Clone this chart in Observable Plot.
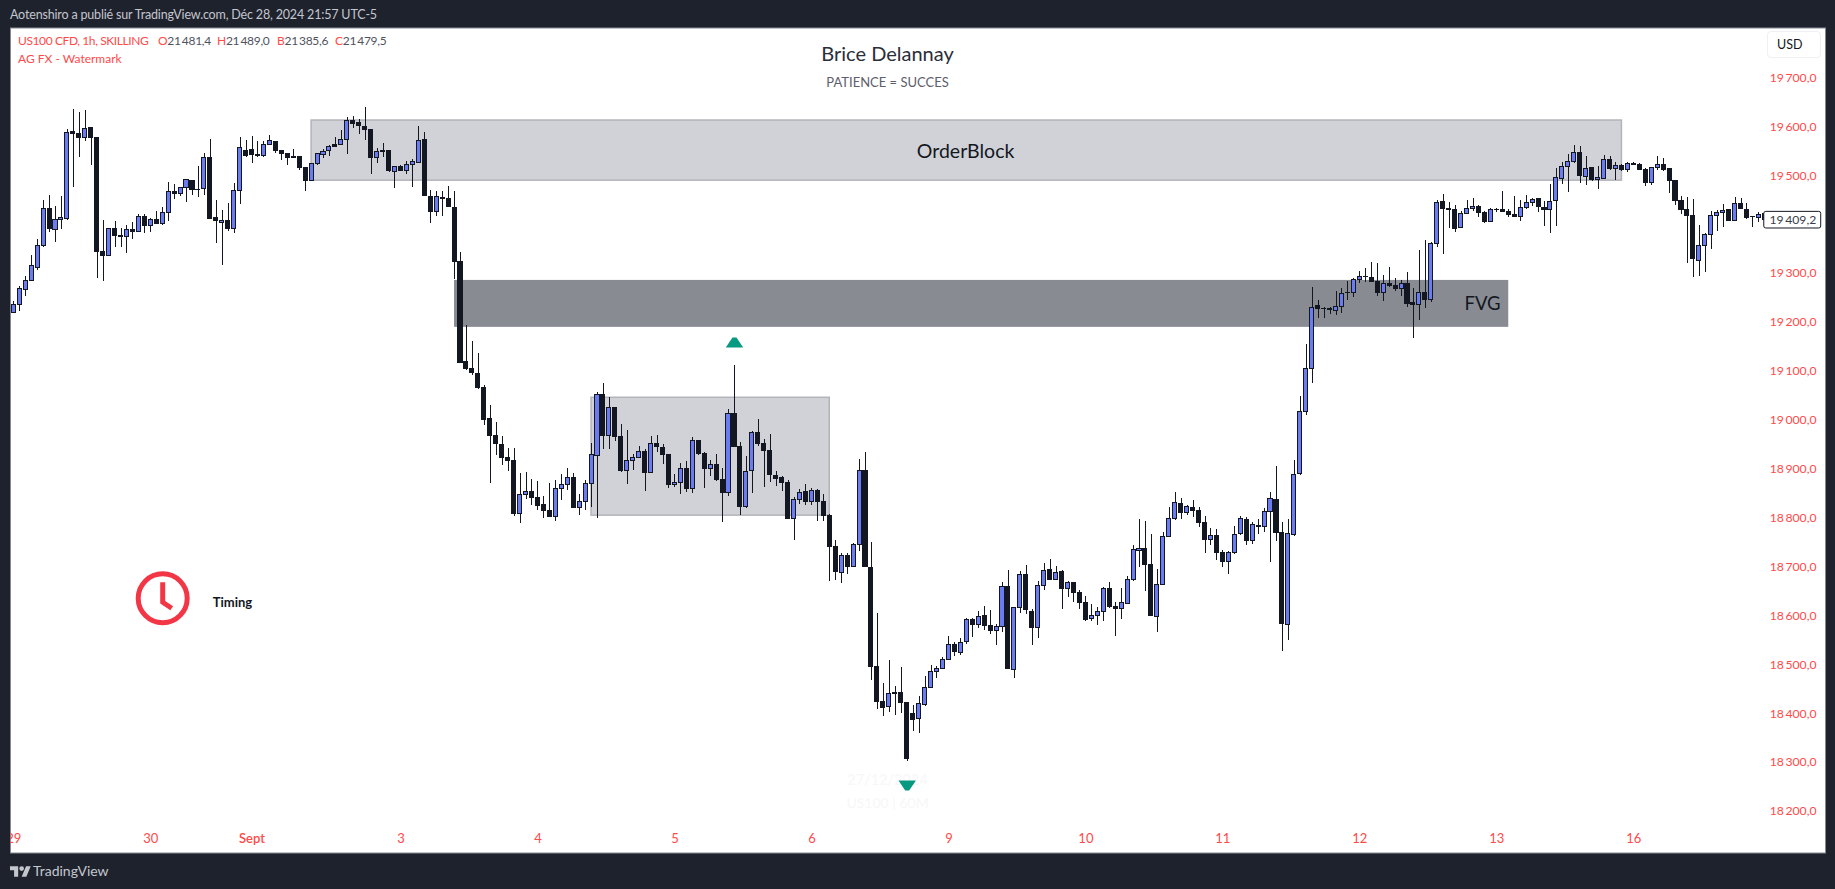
<!DOCTYPE html>
<html lang="fr">
<head>
<meta charset="utf-8">
<title>US100 CFD</title>
<script src="https://cdn.jsdelivr.net/npm/d3@7"></script>
<script src="https://cdn.jsdelivr.net/npm/@observablehq/plot@0.6"></script>
<style>
  html, body { margin: 0; padding: 0; background: #1e222d; width: 1835px; height: 889px; overflow: hidden; }
  body { font-family: Lato, sans-serif; position: relative; }
  #hdr { height: 27px; line-height: 29px; padding-left: 10px; color: #c4c6cd; font-size: 12.5px; letter-spacing: -0.17px; white-space: nowrap; }
  #ftr { height: 36px; position: relative; color: #c4c6cd; font-size: 14px; }
  #ftr svg { position: absolute; left: 10px; top: 13px; }
  #ftr span { position: absolute; left: 33px; top: 9px; }
  #chart svg { display: block; }
  .ov { position: absolute; font-size: 12px; white-space: nowrap; line-height: 16px; }
  .red { color: #ff4a4a; }
  .val { color: #50535e; }
  #usd { position: absolute; left: 1767px; top: 31px; height: 25px; border: 1.5px solid #eef0f4; border-radius: 4px; color: #131722; font-size: 12.5px; line-height: 25px; padding-left: 9px; box-sizing: content-box; width: 43px; }
</style>
</head>
<body>
<div id="hdr">Aotenshiro a publié sur TradingView.com, Déc 28, 2024 21:57 UTC-5</div>
<div id="chart"></div>
<div id="ftr">
  <svg width="21" height="11" viewBox="0 4 36 18"><path fill="#c4c6cd" d="M14 22H7V11H0V4h14v18zM28 22h-8l7.5-18h8L28 22z"/><circle fill="#c4c6cd" cx="20" cy="8" r="4"/></svg>
  <span>TradingView</span>
</div>
<div class="ov red" style="left:18px;top:33px;letter-spacing:-0.4px">US100 CFD, 1h, SKILLING</div>
<div class="ov" style="left:158px;top:33px;letter-spacing:-0.3px"><span class="red">O</span><span class="val">21&#8201;481,4</span></div>
<div class="ov" style="left:217px;top:33px;letter-spacing:-0.3px"><span class="red">H</span><span class="val">21&#8201;489,0</span></div>
<div class="ov" style="left:277px;top:33px;letter-spacing:-0.3px"><span class="red">B</span><span class="val">21&#8201;385,6</span></div>
<div class="ov" style="left:335px;top:33px;letter-spacing:-0.3px"><span class="red">C</span><span class="val">21&#8201;479,5</span></div>
<div class="ov red" style="left:18px;top:51px">AG FX - Watermark</div>
<div id="usd">USD</div>
<script>
const opens = [
19220,19236,19267,19285,19311,19356,19432,19390,19409,19411,
19590,19586,19578,19598,19578,19344,19336,19392,19377,19375,
19390,19385,19416,19398,19410,19401,19424,19467,19463,19475,
19490,19471,19473,19537,19414,19404,19408,19391,19469,19551,
19553,19543,19540,19563,19570,19551,19545,19539,19539,19516,
19490,19524,19543,19551,19562,19563,19574,19612,19608,19600,
19594,19537,19551,19551,19508,19518,19510,19522,19527,19574,
19457,19426,19455,19453,19435,19324,19120,19105,19095,19066,
19003,18968,18950,18923,18917,18809,18848,18854,18841,18827,
18815,18802,18860,18868,18882,18820,18833,18870,18927,19052,
18968,19026,18966,18896,18916,18923,18935,18892,18952,18944,
18930,18867,18872,18901,18859,18958,18932,18900,18909,18878,
18851,19013,18946,18822,18896,18974,18952,18938,18886,18882,
18872,18798,18837,18854,18833,18856,18833,18804,18740,18688,
18723,18700,18745,18897,18698,18496,18424,18413,18443,18443,
18421,18400,18389,18417,18452,18485,18492,18510,18541,18524,
18547,18592,18581,18600,18580,18569,18578,18659,18489,18616,
18684,18608,18575,18661,18694,18673,18690,18655,18668,18647,
18627,18593,18600,18608,18655,18618,18614,18624,18674,18733,
18737,18704,18597,18663,18762,18798,18829,18811,18821,18815,
18790,18755,18764,18729,18710,18729,18767,18796,18753,18784,
18781,18813,18837,18770,18581,18765,18890,19017,19105,19233,
19228,19227,19223,19232,19261,19261,19287,19294,19291,19283,
19261,19279,19275,19268,19279,19239,19236,19261,19246,19361,
19447,19432,19430,19394,19422,19432,19437,19424,19405,19430,
19430,19426,19420,19415,19434,19444,19453,19434,19430,19448,
19493,19518,19529,19547,19498,19515,19491,19494,19533,19514,
19520,19512,19525,19522,19512,19485,19516,19522,19513,19490,
19449,19430,19418,19326,19356,19379,19417,19424,19429,19408,
19443,19431,19416,19414,19421];
const closes = [
19236,19269,19285,19315,19356,19432,19392,19410,19414,19588,
19586,19577,19596,19578,19344,19336,19392,19377,19375,19390,
19385,19416,19397,19410,19401,19424,19467,19462,19475,19491,
19471,19470,19537,19411,19408,19408,19391,19469,19557,19540,
19542,19540,19563,19572,19551,19545,19537,19537,19516,19489,
19524,19544,19548,19559,19559,19574,19612,19606,19602,19594,
19536,19548,19548,19509,19518,19510,19522,19529,19572,19458,
19426,19457,19453,19436,19323,19118,19105,19096,19066,19001,
18968,18952,18923,18916,18808,18847,18854,18841,18824,18814,
18802,18859,18868,18882,18820,18833,18870,18929,19052,18968,
19026,18966,18896,18916,18923,18935,18892,18951,18945,18929,
18867,18872,18901,18859,18958,18931,18900,18909,18878,18851,
19013,18945,18822,18894,18974,18951,18937,18888,18879,18871,
18798,18837,18851,18833,18855,18833,18804,18741,18689,18723,
18700,18745,18897,18700,18495,18424,18411,18441,18441,18421,
18307,18387,18420,18453,18486,18492,18510,18541,18526,18545,
18592,18581,18598,18579,18569,18578,18659,18491,18616,18684,
18612,18575,18661,18692,18673,18688,18655,18667,18646,18626,
18591,18600,18608,18655,18618,18614,18626,18674,18735,18737,
18704,18599,18663,18762,18798,18831,18810,18823,18814,18790,
18755,18764,18728,18710,18729,18766,18798,18753,18786,18782,
18813,18839,18769,18583,18768,18888,19017,19105,19230,19227,
19227,19226,19232,19259,19260,19287,19293,19293,19282,19260,
19279,19274,19268,19279,19237,19235,19261,19246,19361,19445,
19432,19430,19391,19422,19432,19437,19424,19405,19430,19429,
19426,19419,19415,19434,19445,19451,19436,19430,19447,19496,
19518,19529,19547,19499,19514,19492,19496,19533,19514,19520,
19511,19525,19522,19512,19485,19515,19522,19511,19489,19448,
19429,19417,19330,19357,19379,19418,19424,19428,19408,19443,
19432,19413,19415,19420,19409.2];
const highs = [
19242,19274,19294,19336,19370,19450,19460,19437,19458,19594,
19636,19630,19634,19598,19578,19409,19392,19406,19392,19398,
19405,19420,19420,19412,19427,19436,19486,19482,19475,19493,
19490,19519,19546,19574,19450,19429,19443,19485,19578,19572,
19580,19570,19571,19582,19570,19551,19545,19553,19540,19516,
19524,19546,19553,19562,19579,19593,19619,19622,19615,19640,
19594,19555,19565,19551,19518,19521,19529,19533,19601,19588,
19470,19467,19468,19478,19468,19343,19194,19161,19137,19071,
19030,18996,18967,18942,18942,18892,18893,18879,18875,18844,
18871,18877,18889,18901,18892,18848,18877,18952,19056,19075,
19047,19027,18991,18979,18930,18946,18940,18967,18969,18951,
18931,18889,18912,18916,18965,18959,18934,18918,18929,18902,
19022,19112,18954,18926,18977,19002,18961,18971,18895,18885,
18876,18842,18858,18868,18860,18858,18848,18807,18754,18727,
18727,18749,18920,18934,18750,18605,18462,18509,18456,18494,
18423,18417,18435,18476,18498,18496,18515,18558,18546,18554,
18595,18595,18609,18619,18611,18582,18668,18693,18616,18691,
18703,18614,18670,18707,18715,18701,18693,18670,18668,18652,
18640,18623,18617,18659,18668,18627,18656,18680,18744,18797,
18793,18766,18695,18770,18822,18852,18840,18826,18836,18822,
18803,18779,18777,18734,18731,18783,18803,18801,18791,18798,
18819,18852,18905,18791,18797,18918,19049,19155,19272,19245,
19231,19230,19263,19270,19284,19289,19304,19310,19323,19320,
19296,19312,19290,19285,19302,19269,19347,19368,19363,19449,
19461,19445,19439,19427,19449,19453,19439,19426,19434,19434,
19468,19432,19458,19449,19460,19454,19453,19447,19482,19515,
19527,19543,19562,19560,19539,19515,19519,19542,19539,19528,
19523,19527,19527,19525,19514,19516,19539,19535,19513,19490,
19458,19455,19452,19398,19382,19427,19429,19441,19429,19456,
19453,19443,19417,19425,19421];
const lows = [
19220,19223,19253,19285,19306,19354,19383,19364,19390,19409,
19477,19538,19571,19522,19289,19283,19336,19354,19354,19342,
19370,19385,19381,19383,19400,19399,19407,19451,19458,19446,
19460,19456,19460,19411,19362,19317,19387,19381,19442,19538,
19526,19537,19538,19562,19545,19531,19521,19536,19510,19467,
19490,19521,19536,19540,19559,19562,19544,19597,19585,19572,
19503,19525,19538,19507,19473,19508,19503,19477,19525,19458,
19403,19416,19416,19436,19288,19116,19102,19092,19063,18989,
18870,18928,18908,18896,18804,18788,18838,18826,18816,18800,
18802,18792,18836,18856,18820,18805,18816,18822,18800,18940,
18940,18957,18894,18869,18897,18923,18854,18892,18934,18910,
18860,18863,18848,18852,18850,18927,18860,18885,18874,18790,
18845,18945,18805,18820,18851,18946,18863,18873,18865,18855,
18798,18754,18828,18826,18826,18794,18792,18671,18672,18667,
18685,18700,18732,18700,18468,18409,18395,18402,18396,18401,
18303,18363,18360,18415,18452,18472,18492,18510,18516,18520,
18542,18556,18574,18570,18562,18540,18565,18491,18471,18605,
18603,18540,18554,18652,18673,18673,18613,18638,18627,18613,
18589,18588,18580,18588,18615,18558,18593,18624,18671,18699,
18650,18599,18566,18663,18762,18795,18797,18806,18801,18781,
18728,18744,18713,18699,18685,18725,18764,18744,18746,18766,
18771,18710,18753,18528,18550,18762,18887,19010,19076,19209,
19209,19216,19214,19218,19245,19252,19280,19282,19282,19254,
19242,19272,19264,19254,19231,19168,19205,19229,19240,19354,
19340,19393,19383,19393,19422,19426,19415,19403,19404,19424,
19426,19414,19415,19407,19432,19437,19424,19396,19381,19396,
19482,19466,19525,19484,19480,19489,19472,19494,19510,19490,
19509,19507,19520,19510,19479,19481,19511,19509,19464,19439,
19421,19321,19291,19295,19303,19350,19387,19394,19407,19407,
19431,19411,19395,19405,19407];

// 19 400,0 is hidden by the last-price tag in the reference, so it is not listed
const priceTicks = [18200, 18300, 18400, 18500, 18600, 18700, 18800, 18900, 19000, 19100, 19200, 19300, 19500, 19600, 19700];
const dayTickBars = [0, 23, 65, 88, 111, 134, 157, 180, 203, 226, 249, 272];
const dayTickLabels = ["29", "30", "3", "4", "5", "6", "9", "10", "11", "12", "13", "16"];
const monthTickBars = [40];
const monthTickLabels = ["Sept"];

const lightZones = [
  {from: 50, to: 270, top: 19613, bottom: 19490},
  {from: 97, to: 137, top: 19046, bottom: 18805}
];
const fvgZone = [{from: 74, to: 251, top: 19286, bottom: 19190}];
const upMarker = [{bar: 121, price: 19159}];
const downMarker = [{bar: 150, price: 18253}];
const lastPrice = 19409.2;

const candles = opens.map((o, i) => ({i, o, c: closes[i], h: highs[i], l: lows[i]}));

const RED = "#ff4a4a", INK = "#131722", BLUE = "#6b7cf2", GREEN = "#089981", CLOCK = "#f23645";
const fmt = d3.formatLocale({decimal: ",", thousands: "\u2009", grouping: [3], currency: ["", ""]}).format(",.1f");

const wideTriangleUp = {draw(c) { c.moveTo(-8.7, 5); c.lineTo(-2, -5); c.lineTo(2, -5); c.lineTo(8.7, 5); c.closePath(); }};
const wideTriangleDown = {draw(c) { c.moveTo(-8.7, -5); c.lineTo(8.7, -5); c.lineTo(2, 5); c.lineTo(-2, 5); c.closePath(); }};
const clockHands = {draw(c) { c.moveTo(0, -16); c.lineTo(0, 4); c.lineTo(9, 10); }};

const FONT = 'Lato, sans-serif';

const chart = Plot.plot({
  width: 1835,
  height: 826,
  marginLeft: 10,
  marginRight: 10,
  marginTop: 0.5,
  marginBottom: 0.5,
  style: {background: "transparent", fontFamily: FONT, overflow: "visible"},
  x: {type: "linear", domain: [-0.554, 304.18], axis: null},
  y: {domain: [18115.1, 19802.2], axis: null},
  marks: [
    Plot.frame({fill: "white", stroke: "#868993"}),
    Plot.rect(lightZones, {x1: "from", x2: "to", y1: "bottom", y2: "top", fill: "#d1d2d7", stroke: "#b2b4ba", strokeWidth: 1.5}),
    Plot.rect(fvgZone, {x1: "from", x2: "to", y1: "bottom", y2: "top", fill: "#888b92"}),
    Plot.text(["27/12/2024"], {x: () => 146.7, y: () => 18264, text: d => d, fill: "#f7f7f8", fontSize: 14.5, letterSpacing: 0.5}),
    Plot.text(["US100 | 60M"], {x: () => 146.7, y: () => 18216, text: d => d, fill: "#f7f7f8", fontSize: 14}),
    Plot.ruleX(candles, {x: "i", y1: "l", y2: "h", stroke: INK, strokeWidth: 1, shapeRendering: "crispEdges"}),
    Plot.rect(candles, {
      x1: d => d.i - 0.5, x2: d => d.i + 0.5,
      y1: d => Math.min(d.o, d.c), y2: d => Math.max(d.o, d.c),
      insetLeft: 0.95, insetRight: 0.95,
      fill: d => d.c >= d.o ? BLUE : INK,
      stroke: INK, strokeWidth: 1, shapeRendering: "crispEdges"
    }),
    Plot.dot(upMarker, {x: "bar", y: "price", symbol: wideTriangleUp, fill: GREEN, stroke: "none"}),
    Plot.dot(downMarker, {x: "bar", y: "price", symbol: wideTriangleDown, fill: GREEN, stroke: "none"}),
    Plot.text(["OrderBlock"], {x: () => 159.8, y: () => 19550, text: d => d, fill: INK, fontSize: 19.5}),
    Plot.text(["FVG"], {x: () => 246.6, y: () => 19238, text: d => d, fill: INK, fontSize: 18.5}),
    Plot.text(["Brice Delannay"], {x: () => 146.7, y: () => 19748, text: d => d, fill: "#2a2e39", fontSize: 20}),
    Plot.text(["PATIENCE = SUCCES"], {x: () => 146.7, y: () => 19691, text: d => d, fill: "#5d606b", fontSize: 13}),
    Plot.text(["Timing"], {x: () => 33.4, y: () => 18627, text: d => d, textAnchor: "start", fill: INK, fontSize: 13, fontWeight: 700}),
    Plot.dot([0], {x: () => 25, y: () => 18636, r: 24.5, fill: "none", stroke: CLOCK, strokeWidth: 5}),
    Plot.dot([0], {x: () => 25, y: () => 18636, symbol: clockHands, fill: "none", stroke: CLOCK, strokeWidth: 5}),
    Plot.axisY({anchor: "right", ticks: priceTicks, tickFormat: fmt, tickSize: 0, tickPadding: -9, textAnchor: "end", fill: RED, fontSize: 12.2, letterSpacing: -0.3, label: null}),
    Plot.axisX({anchor: "bottom", ticks: dayTickBars, tickFormat: v => dayTickLabels[dayTickBars.indexOf(v)], tickSize: 0, tickPadding: -19, fill: RED, fontSize: 13, label: null, clip: "frame"}),
    Plot.axisX({anchor: "bottom", ticks: monthTickBars, tickFormat: v => monthTickLabels[monthTickBars.indexOf(v)], tickSize: 0, tickPadding: -19, fill: RED, fontSize: 13, fontWeight: 600, label: null}),
    Plot.rect([lastPrice], {x1: () => 293.9, x2: () => 303.46, y1: d => d - 17, y2: d => d + 17, fill: "white", stroke: INK, strokeWidth: 1, rx: 2}),
    Plot.text([lastPrice], {x: () => 298.7, y: d => d, text: fmt, fill: "#3b3e48", fontSize: 12.2, letterSpacing: -0.3})
  ]
});
document.getElementById("chart").appendChild(chart);
</script>
</body>
</html>
